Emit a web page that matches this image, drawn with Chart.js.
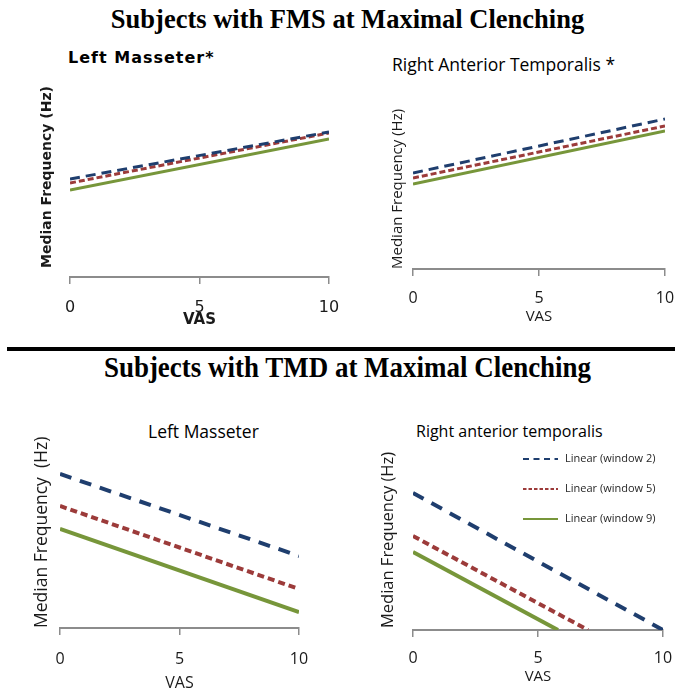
<!DOCTYPE html>
<html>
<head>
<meta charset="utf-8">
<script src="https://cdn.jsdelivr.net/npm/chart.js@4.4.1/dist/chart.umd.min.js"></script>
<style>
  html, body { margin: 0; padding: 0; background: #fff; }
  #page { position: relative; width: 675px; height: 693px; overflow: hidden; background: #fff; }
  canvas { position: absolute; }
  .heading {
    position: absolute; left: 10px; width: 675px; text-align: center;
    font-family: "Liberation Serif", "Times New Roman", serif; font-weight: bold;
    color: #000; white-space: nowrap; line-height: 1;
  }
  .panel-title { position: absolute; white-space: nowrap; color: #000; line-height: 1; }
  #divider { position: absolute; left: 7px; top: 347px; width: 668px; height: 4px; background: #000; }
</style>
</head>
<body>
<div id="page">
  <div class="heading" style="top: 6px; font-size: 26.5px;">Subjects with FMS at Maximal Clenching</div>

  <div class="panel-title" style="left: 68px; top: 48px; font: bold 16px 'DejaVu Sans'; letter-spacing: 1px;">Left Masseter*</div>
  <div class="panel-title" style="left: 392px; top: 52px; font: 17.5px 'Open Sans';">Right Anterior Temporalis *</div>
  <canvas id="fms-masseter" width="340" height="300" style="left: 0; top: 40px;"></canvas>
  <canvas id="fms-temporalis" width="335" height="300" style="left: 340px; top: 40px;"></canvas>

  <div id="divider"></div>
  <div class="heading" style="top: 353px; font-size: 29px; transform: scaleX(0.93);">Subjects with TMD at Maximal Clenching</div>

  <div class="panel-title" style="left: 148px; top: 419px; font: 17.5px 'Open Sans';">Left Masseter</div>
  <div class="panel-title" style="left: 416px; top: 420px; font: 16px 'Open Sans';">Right anterior temporalis</div>
  <canvas id="tmd-masseter" width="340" height="303" style="left: 0; top: 390px;"></canvas>
  <canvas id="tmd-temporalis" width="335" height="303" style="left: 340px; top: 390px;"></canvas>
</div>

<script>
/* ==========================================================
   DATA (trend lines, heights in plot units above the VAS axis)
   ==========================================================*/
const seriesNames = ["Linear (window 2)", "Linear (window 5)", "Linear (window 9)"];
const seriesColors = ["#1f3e6e", "#9c3b3a", "#77963a"];
const vasTicks = [0, 5, 10];

// FMS - left masseter (VAS 0 -> 10)
const fmsMasseterStart = [98, 94, 87];
const fmsMasseterEnd = [145, 144, 138];

// FMS - right anterior temporalis
const fmsTemporalisStart = [96, 91, 85];
const fmsTemporalisEnd = [150, 143, 138];

// TMD - left masseter
const tmdMasseterStart = [154, 122, 99];
const tmdMasseterEnd = [72, 39, 16];

// TMD - right anterior temporalis (lines reach the axis before VAS 10)
const tmdTemporalisStart = [137, 94, 78];
const tmdTemporalisEnd = [0, 0, 0];
const tmdTemporalisEndVas = [10, 7, 5.8];

const AXIS_GREY = "#8c8c8c";
const TEXT = "#1a1a1a";

/* ==========================================================
   LEGEND DRAWN INSIDE THE PLOT AREA
   ==========================================================*/
const insideLegend = {
  id: "insideLegend",
  afterDatasetsDraw(chart, args, opts) {
    const ctx = chart.ctx;
    ctx.save();
    ctx.font = opts.font;
    ctx.textBaseline = "middle";
    chart.data.datasets.forEach((ds, i) => {
      const y = opts.top + i * opts.gap;
      ctx.strokeStyle = ds.borderColor;
      ctx.lineWidth = opts.lineWidth;
      ctx.setLineDash(ds.borderDash.map((d) => d * opts.dashScale));
      ctx.beginPath();
      ctx.moveTo(opts.left, y);
      ctx.lineTo(opts.left + opts.lineLength, y);
      ctx.stroke();
      ctx.setLineDash([]);
      ctx.fillStyle = opts.color;
      ctx.fillText(ds.label, opts.left + opts.lineLength + opts.textGap, y);
    });
    ctx.restore();
  },
};

/* ==========================================================
   PANEL BUILDER
   ==========================================================*/
function makePanel(id, p) {
  const datasets = seriesNames.map((name, i) => ({
    label: name,
    data: [
      { x: 0, y: p.start[i] },
      { x: p.endVas ? p.endVas[i] : 10, y: p.end[i] },
    ],
    borderColor: seriesColors[i],
    borderWidth: p.lineWidth,
    borderDash: p.dashes[i],
    borderCapStyle: "butt",
    pointRadius: 0,
    fill: false,
  }));

  const options = {
    responsive: false,
    animation: false,
    layout: { padding: { top: p.padTop, right: p.padRight, left: 0, bottom: 0 } },
    plugins: {
      legend: { display: false },
      tooltip: { enabled: false },
    },
    scales: {
      x: {
        type: "linear",
        min: 0,
        max: 10,
        afterBuildTicks: (s) => {
          s.ticks = vasTicks.map((v) => ({ value: v }));
        },
        afterFit: (s) => {
          s.height = p.xHeight;
          // the edge labels may hang out; keep the plot width fixed
          s.paddingLeft = 0;
          s.paddingRight = 0;
        },
        ticks: { font: p.tickFont, color: TEXT, padding: p.tickPad, maxRotation: 0 },
        grid: {
          display: true,
          drawOnChartArea: false,
          drawTicks: true,
          tickLength: 7,
          color: AXIS_GREY,
          lineWidth: 1.5,
        },
        border: { display: true, color: AXIS_GREY, width: 2 },
        title: {
          display: true,
          text: "VAS",
          font: p.vasFont,
          color: TEXT,
          padding: { top: 0, bottom: p.vasPad },
        },
      },
      y: {
        min: 0,
        max: p.yMax,
        afterFit: (s) => {
          s.width = p.yWidth;
        },
        ticks: { display: false },
        grid: { display: false },
        border: { display: false },
        title: {
          display: true,
          text: p.yTitle,
          font: p.yFont,
          color: TEXT,
          align: p.yAlign || "center",
          padding: { top: p.yPad, bottom: 0 },
        },
      },
    },
  };

  const plugins = [];
  if (p.legend) {
    options.plugins.insideLegend = p.legend;
    plugins.push(insideLegend);
  }

  return new Chart(document.getElementById(id), {
    type: "line",
    data: { datasets },
    options,
    plugins,
  });
}

/* ==========================================================
   FOUR PANELS
   ==========================================================*/
makePanel("fms-masseter", {
  start: fmsMasseterStart,
  end: fmsMasseterEnd,
  yMax: 200,
  padTop: 37,
  padRight: 11,
  xHeight: 63,
  yWidth: 70,
  lineWidth: 3,
  dashes: [[10, 6], [6, 3], []],
  yTitle: "Median Frequency (Hz)",
  yFont: { family: "DejaVu Sans", size: 14, weight: "bold" },
  yPad: 39,
  tickFont: { family: "DejaVu Sans", size: 16 },
  tickPad: 14,
  vasFont: { family: "DejaVu Sans", size: 15, weight: "bold" },
  vasPad: 11,
});

makePanel("fms-temporalis", {
  start: fmsTemporalisStart,
  end: fmsTemporalisEnd,
  yMax: 190,
  padTop: 39,
  padRight: 10,
  xHeight: 71,
  yWidth: 73,
  lineWidth: 3,
  dashes: [[10, 6], [6, 3], []],
  yTitle: "Median Frequency (Hz)",
  yFont: { family: "Open Sans", size: 15 },
  yAlign: "start",
  yPad: 49,
  tickFont: { family: "Open Sans", size: 16 },
  tickPad: 13,
  vasFont: { family: "Open Sans", size: 15 },
  vasPad: 14,
});

makePanel("tmd-masseter", {
  start: tmdMasseterStart,
  end: tmdMasseterEnd,
  yMax: 180,
  padTop: 58,
  padRight: 41,
  xHeight: 65,
  yWidth: 60,
  lineWidth: 4,
  dashes: [[12, 9], [7, 4], []],
  yTitle: "Median Frequency  (Hz)",
  yFont: { family: "Open Sans", size: 17.5 },
  yAlign: "start",
  yPad: 32,
  tickFont: { family: "Open Sans", size: 16 },
  tickPad: 15,
  vasFont: { family: "Open Sans", size: 16 },
  vasPad: 0,
});

makePanel("tmd-temporalis", {
  start: tmdTemporalisStart,
  end: tmdTemporalisEnd,
  endVas: tmdTemporalisEndVas,
  yMax: 180,
  padTop: 60,
  padRight: 12,
  xHeight: 63,
  yWidth: 73,
  lineWidth: 4,
  dashes: [[12, 9], [7, 4], []],
  yTitle: "Median Frequency (Hz)",
  yFont: { family: "Open Sans", size: 16.5 },
  yPad: 38,
  tickFont: { family: "Open Sans", size: 16 },
  tickPad: 12,
  vasFont: { family: "Open Sans", size: 15 },
  vasPad: 7,
  legend: {
    left: 183,
    top: 69,
    gap: 30,
    lineLength: 35,
    lineWidth: 2,
    dashScale: 0.5,
    textGap: 7,
    font: "11px 'Open Sans', sans-serif",
    color: "#262626",
  },
});
</script>
</body>
</html>
